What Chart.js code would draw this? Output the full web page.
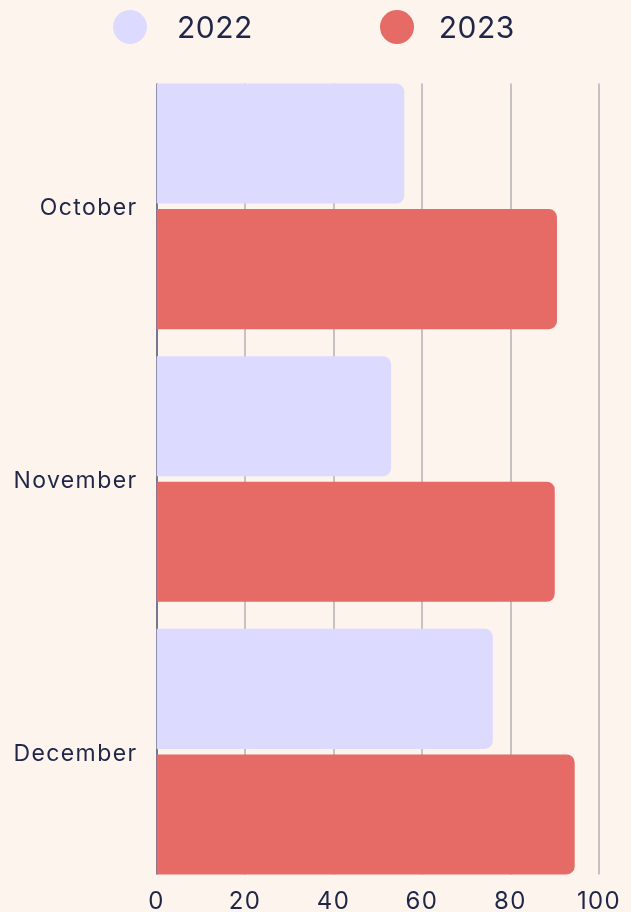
<!DOCTYPE html>
<html>
<head>
<meta charset="utf-8">
<script src="https://cdn.jsdelivr.net/npm/chart.js@4.4.1/dist/chart.umd.min.js"></script>
<style>
  html, body { margin: 0; padding: 0; background: #fdf4ee; }
  #wrap { position: relative; width: 631px; height: 912px; }
  #legend { position: absolute; top: 9px; left: 113px; display: flex; align-items: center;
            font-family: Inter, sans-serif; font-size: 30px; letter-spacing: 0.5px; color: #1f2647; }
  .item { display: flex; align-items: center; }
  .dot { width: 34px; height: 34px; border-radius: 50%; }
</style>
</head>
<body>
<div id="wrap">
  <div id="legend"></div>
  <canvas id="barChart" width="631" height="912"></canvas>
</div>
<script>
const months = ['October', 'November', 'December'];
const seriesNames = ['2022', '2023'];
const values2022 = [56, 53, 76];
const values2023 = [90.5, 90, 94.5];
const xTicks = [0, 20, 40, 60, 80, 100];
const colors = ['#dcdafe', '#e66a65'];

const textColor = '#1f2647';

// legend above the chart
const legend = document.getElementById('legend');
const dotGaps = [30, 25];
seriesNames.forEach((name, i) => {
    const item = document.createElement('div');
    item.className = 'item';
    if (i > 0) item.style.marginLeft = '127px';
    item.innerHTML = '<div class="dot" style="background:' + colors[i] + ';margin-right:' + dotGaps[i] + 'px"></div><span>' + name + '</span>';
    legend.appendChild(item);
});

// wider letters like the original (canvas state is reset on resize, so set it before each draw)
const spacingPlugin = {
    id: 'spacing',
    beforeDraw(chart) { chart.ctx.letterSpacing = '1.4px'; }
};

// grid lines only across the bars, plus the dark zero line
const gridPlugin = {
    id: 'barGrid',
    beforeDatasetsDraw(chart) {
        const ctx = chart.ctx;
        const x = chart.scales.x;
        const first = chart.getDatasetMeta(0).data[0];
        const last = chart.getDatasetMeta(1).data[months.length - 1];
        const top = first.y - first.height / 2;
        const bottom = last.y + last.height / 2;
        ctx.save();
        ctx.lineWidth = 2;
        xTicks.forEach(t => {
            const px = Math.round(x.getPixelForValue(t));
            ctx.strokeStyle = t === 0 ? '#767890' : '#c6c2c3';
            ctx.beginPath();
            ctx.moveTo(px, top);
            ctx.lineTo(px, bottom);
            ctx.stroke();
        });
        ctx.restore();
    }
};

const ctx = document.getElementById('barChart').getContext('2d');
new Chart(ctx, {
    type: 'bar',
    data: {
        labels: months,
        datasets: [
            { label: seriesNames[0], data: values2022, backgroundColor: colors[0] },
            { label: seriesNames[1], data: values2023, backgroundColor: colors[1] }
        ]
    },
    options: {
        indexAxis: 'y',
        responsive: false,
        animation: false,
        categoryPercentage: 0.921,
        barPercentage: 0.956,
        borderRadius: 8,
        borderSkipped: 'start',
        layout: { padding: { top: 70, right: 32, left: 0, bottom: 0 } },
        plugins: {
            legend: { display: false },
            tooltip: { enabled: false }
        },
        scales: {
            x: {
                min: 0,
                max: 100,
                afterBuildTicks: scale => { scale.ticks = xTicks.map(v => ({ value: v })); },
                grid: { display: false, drawTicks: false },
                border: { display: false },
                ticks: { color: textColor, padding: -1, font: { family: 'Inter', size: 24 } },
                afterFit: scale => { scale.height = 24; }
            },
            y: {
                grid: { display: false, drawTicks: false },
                border: { display: false },
                ticks: { color: textColor, padding: 19, labelOffset: 2, font: { family: 'Inter', size: 23 } },
                afterFit: scale => {
                    scale.width = 156.5;
                    scale.paddingTop = 0;
                    scale.paddingBottom = 0;
                }
            }
        }
    },
    plugins: [spacingPlugin, gridPlugin]
});
</script>
</body>
</html>
